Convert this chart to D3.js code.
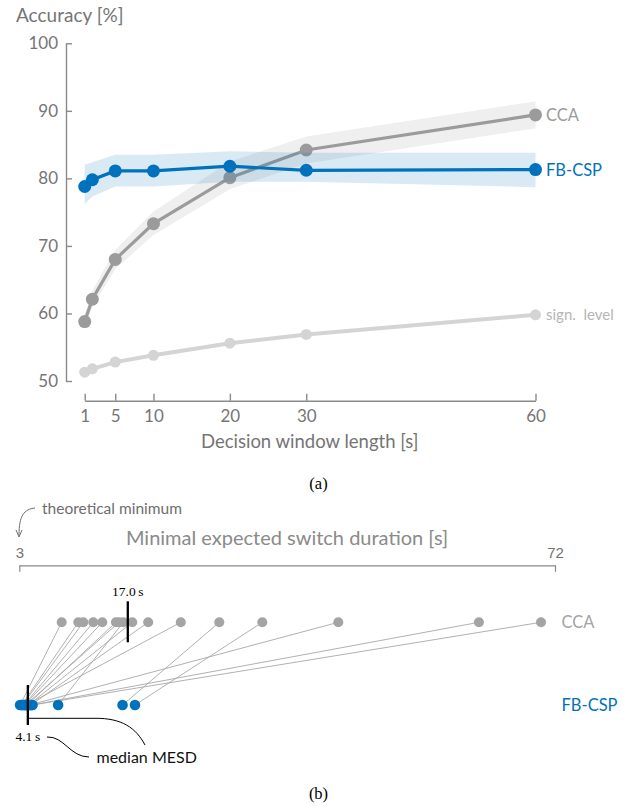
<!DOCTYPE html>
<html>
<head>
<meta charset="utf-8">
<script src="https://cdn.jsdelivr.net/npm/d3@7"></script>
<style>
  body { margin: 0; background: #fff; }
  svg { display: block; }
  .sans { font-family: Lato, "Open Sans", sans-serif; }
  .serif { font-family: "Liberation Serif", serif; }
</style>
</head>
<body>
<svg></svg>
<script>
const size = {w: 641, h: 806};
const svg = d3.select('svg').attr('width', size.w).attr('height', size.h);

// ---- panel (a): accuracy vs decision window length ----
const windowLengths = [1, 2, 5, 10, 20, 30, 60];
const ccaAcc = [58.8, 62.1, 68.0, 73.3, 80.1, 84.2, 89.4];
const ccaLow = [58.0, 61.0, 66.6, 71.6, 78.4, 82.2, 87.4];
const ccaHigh = [59.8, 63.4, 69.4, 75.1, 82.5, 86.2, 91.4];
const fbcspAcc = [78.8, 79.8, 81.1, 81.1, 81.8, 81.2, 81.3];
const fbcspLow = [76.2, 77.3, 78.8, 78.8, 79.5, 79.5, 78.7];
const fbcspHigh = [82.0, 82.4, 83.5, 83.5, 84.0, 83.8, 83.8];
const signLevel = [51.3, 51.8, 52.8, 53.8, 55.6, 56.9, 59.8];
const xTicks = [1, 5, 10, 20, 30, 60];
const yTicks = [50, 60, 70, 80, 90, 100];

// ---- panel (b): minimal expected switch duration per subject ----
const mesdCCA = [8.46, 10.6, 11.24, 12.53, 13.69, 15.45, 15.84, 16.40, 17.55, 19.6, 23.8, 28.76, 34.3, 44.09, 62.2, 70.2];
const mesdFBCSP = [3.1, 3.3, 3.4, 3.6, 3.7, 4.0, 3.8, 8.0, 4.2, 4.5, 3.9, 16.3, 17.9, 4.3, 4.6, 4.7];
const mesdTicks = [3, 72];
const methods = ['CCA', 'FB-CSP'];

const blue = '#0072bd', gray = '#9b9b9b', light = '#d4d4d4', axisCol = '#8a8a8a', textCol = '#757575';

// scales
const x = d3.scaleLinear().domain([1, 60]).range([84.7, 535.5]);
const y = d3.scaleLinear().domain([50, 100]).range([381, 43.3]);

const pts = vals => windowLengths.map((w, i) => ({w: w, v: vals[i]}));
const band = (lo, hi) => windowLengths.map((w, i) => ({w: w, lo: lo[i], hi: hi[i]}));

const line = d3.line().x(d => x(d.w)).y(d => y(d.v));
const area = d3.area().x(d => x(d.w)).y0(d => y(d.lo)).y1(d => y(d.hi));

const gA = svg.append('g');

// axes
const yAxis = d3.axisLeft(y).tickValues(yTicks).tickSize(-6).tickSizeOuter(0).tickPadding(8);
gA.append('g').attr('transform', 'translate(66,0)').call(yAxis)
  .call(g => g.selectAll('path, line').attr('stroke', axisCol).attr('stroke-width', 1.4))
  .call(g => g.selectAll('text').attr('fill', textCol).attr('font-size', 17).attr('class', 'sans'));

const xAxis = d3.axisBottom(x).tickValues(xTicks).tickSize(-7).tickSizeOuter(0).tickPadding(9);
gA.append('g').attr('transform', 'translate(0,400.7)').call(xAxis)
  .call(g => g.selectAll('path, line').attr('stroke', axisCol).attr('stroke-width', 1.4))
  .call(g => g.selectAll('text').attr('fill', textCol).attr('font-size', 17).attr('class', 'sans'));

gA.append('text').attr('class', 'sans').attr('x', 16).attr('y', 22)
  .attr('font-size', 19).attr('fill', textCol).text('Accuracy [%]');
gA.append('text').attr('class', 'sans').attr('x', 309.7).attr('y', 448)
  .attr('text-anchor', 'middle').attr('font-size', 18.5).attr('fill', textCol).text('Decision window length [s]');

// significance level
gA.append('path').datum(pts(signLevel)).attr('d', line)
  .attr('fill', 'none').attr('stroke', light).attr('stroke-width', 4);
gA.selectAll('circle.sig').data(pts(signLevel)).join('circle').attr('class', 'sig')
  .attr('cx', d => x(d.w)).attr('cy', d => y(d.v)).attr('r', 5.5).attr('fill', light);

// CCA
gA.append('path').datum(band(ccaLow, ccaHigh)).attr('d', area).attr('fill', '#efefef');
gA.append('path').datum(pts(ccaAcc)).attr('d', line)
  .attr('fill', 'none').attr('stroke', gray).attr('stroke-width', 3.2);
gA.selectAll('circle.cca').data(pts(ccaAcc)).join('circle').attr('class', 'cca')
  .attr('cx', d => x(d.w)).attr('cy', d => y(d.v)).attr('r', 6.5).attr('fill', gray);

// FB-CSP
gA.append('path').datum(band(fbcspLow, fbcspHigh)).attr('d', area)
  .attr('fill', blue).attr('fill-opacity', 0.15);
gA.append('path').datum(pts(fbcspAcc)).attr('d', line)
  .attr('fill', 'none').attr('stroke', blue).attr('stroke-width', 3.2);
gA.selectAll('circle.fb').data(pts(fbcspAcc)).join('circle').attr('class', 'fb')
  .attr('cx', d => x(d.w)).attr('cy', d => y(d.v)).attr('r', 6.5).attr('fill', blue);

// end labels
const last = windowLengths.length - 1;
gA.append('text').attr('class', 'sans').attr('x', 546).attr('y', y(ccaAcc[last])).attr('dy', '0.36em')
  .attr('font-size', 16.5).attr('fill', gray).text('CCA');
gA.append('text').attr('class', 'sans').attr('x', 546).attr('y', y(fbcspAcc[last])).attr('dy', '0.36em')
  .attr('font-size', 16.5).attr('fill', blue).text('FB-CSP');
gA.append('text').attr('class', 'sans').attr('x', 546).attr('y', y(signLevel[last])).attr('dy', '0.36em')
  .attr('font-size', 15).attr('fill', '#b5b5b5').text('sign.\u00a0 level');

svg.append('text').attr('class', 'serif').attr('x', 318.5).attr('y', 489)
  .attr('text-anchor', 'middle').attr('font-size', 16.5).text('(a)');

// ---- panel (b) ----
const gB = svg.append('g');
const xm = d3.scaleLinear().domain([3, 72]).range([19.3, 555]);
const row = d3.scalePoint().domain(methods).range([622.3, 705]);

gB.append('text').attr('class', 'sans').attr('x', 287).attr('y', 545)
  .attr('text-anchor', 'middle').attr('font-size', 20).attr('fill', '#8a8a8a')
  .text('Minimal expected switch duration [s]');

const mAxis = d3.axisTop(xm).tickValues(mesdTicks).tickSize(-6.5).tickSizeOuter(0).tickPadding(7);
gB.append('g').attr('transform', 'translate(0,565.3)').call(mAxis)
  .call(g => g.selectAll('path, line').attr('stroke', axisCol).attr('stroke-width', 1.2))
  .call(g => g.selectAll('text').attr('fill', textCol).attr('font-size', 15)
    .attr('font-family', '"Liberation Sans", Arial, sans-serif'));

// theoretical minimum annotation
gB.append('text').attr('class', 'sans').attr('x', 42).attr('y', 514)
  .attr('font-size', 15.5).attr('fill', '#6e6e6e').text('theoretical minimum');
gB.append('path').attr('d', 'M35,508 C24,509 19,516 19,535')
  .attr('fill', 'none').attr('stroke', '#6e6e6e').attr('stroke-width', 1);
gB.append('path').attr('d', 'M16,530 L19,537 L22,530')
  .attr('fill', 'none').attr('stroke', '#6e6e6e').attr('stroke-width', 1);

// subject connections
const subjects = mesdCCA.map((v, i) => ({cca: v, fb: mesdFBCSP[i]}));
gB.selectAll('line.link').data(subjects).join('line').attr('class', 'link')
  .attr('x1', d => xm(d.cca)).attr('y1', row('CCA'))
  .attr('x2', d => xm(d.fb)).attr('y2', row('FB-CSP'))
  .attr('stroke', '#a8a8a8').attr('stroke-width', 0.9);

gB.selectAll('circle.mcca').data(mesdCCA).join('circle').attr('class', 'mcca')
  .attr('cx', d => xm(d)).attr('cy', row('CCA')).attr('r', 5).attr('fill', '#a4a4a4');
gB.selectAll('circle.mfb').data(mesdFBCSP).join('circle').attr('class', 'mfb')
  .attr('cx', d => xm(d)).attr('cy', row('FB-CSP')).attr('r', 5.3).attr('fill', blue);

// medians
const medCCA = d3.median(mesdCCA), medFB = d3.median(mesdFBCSP);
gB.append('line').attr('x1', xm(medCCA)).attr('x2', xm(medCCA))
  .attr('y1', row('CCA') - 21).attr('y2', row('CCA') + 20)
  .attr('stroke', '#000').attr('stroke-width', 2.3);
gB.append('line').attr('x1', xm(medFB)).attr('x2', xm(medFB))
  .attr('y1', row('FB-CSP') - 20).attr('y2', row('FB-CSP') + 20)
  .attr('stroke', '#000').attr('stroke-width', 2.3);
gB.append('text').attr('class', 'serif').attr('x', xm(medCCA)).attr('y', 596)
  .attr('text-anchor', 'middle').attr('font-size', 13.5).text(d3.format('.1f')(medCCA) + '\u2009s');
gB.append('text').attr('class', 'serif').attr('x', xm(medFB)).attr('y', 741)
  .attr('text-anchor', 'middle').attr('font-size', 13.5).text(d3.format('.1f')(medFB) + '\u2009s');

// median MESD annotation
gB.append('path').attr('d', `M${xm(medFB)},718.3 H95 C122,718 136,728 145,745`)
  .attr('fill', 'none').attr('stroke', '#000').attr('stroke-width', 1);
gB.append('path').attr('d', 'M47,737 C64,736 70,757 89,757')
  .attr('fill', 'none').attr('stroke', '#000').attr('stroke-width', 1);
gB.append('text').attr('class', 'sans').attr('x', 96.5).attr('y', 762.5)
  .attr('font-size', 16).attr('fill', '#111').text('median MESD');

// row labels
gB.append('text').attr('class', 'sans').attr('x', 561.5).attr('y', row('CCA')).attr('dy', '0.36em')
  .attr('font-size', 16.5).attr('fill', '#a4a4a4').text('CCA');
gB.append('text').attr('class', 'sans').attr('x', 561.5).attr('y', row('FB-CSP')).attr('dy', '0.36em')
  .attr('font-size', 16.5).attr('fill', blue).text('FB-CSP');

svg.append('text').attr('class', 'serif').attr('x', 318.5).attr('y', 799)
  .attr('text-anchor', 'middle').attr('font-size', 16.5).text('(b)');
</script>
</body>
</html>
